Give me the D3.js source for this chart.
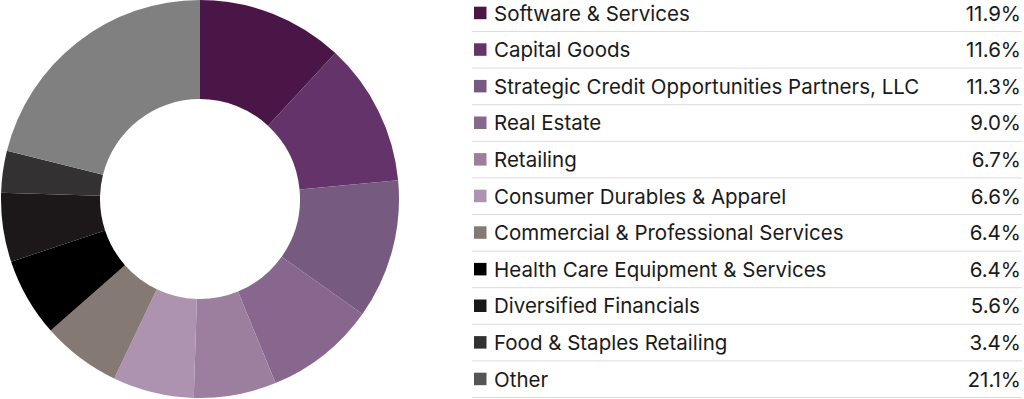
<!DOCTYPE html>
<html>
<head>
<meta charset="utf-8">
<script src="https://cdn.jsdelivr.net/npm/d3@7"></script>
<style>
  html, body { margin: 0; padding: 0; background: #fff; }
  svg { display: block; }
</style>
</head>
<body>
<svg id="chart" width="1024" height="399"></svg>
<script>
const categories = [
  "Software & Services",
  "Capital Goods",
  "Strategic Credit Opportunities Partners, LLC",
  "Real Estate",
  "Retailing",
  "Consumer Durables & Apparel",
  "Commercial & Professional Services",
  "Health Care Equipment & Services",
  "Diversified Financials",
  "Food & Staples Retailing",
  "Other"
];
const values = [11.9, 11.6, 11.3, 9.0, 6.7, 6.6, 6.4, 6.4, 5.6, 3.4, 21.1];
const valueLabels = ["11.9%", "11.6%", "11.3%", "9.0%", "6.7%", "6.6%", "6.4%", "6.4%", "5.6%", "3.4%", "21.1%"];
const sliceColors = ["#4a1648", "#63336a", "#775a80", "#88678e", "#9c7f9f", "#ad93b0", "#857a73", "#000000", "#1c1819", "#333132", "#808080"];
const legendColors = ["#4a1648", "#63336a", "#775a80", "#88678e", "#9c7f9f", "#ad93b0", "#857a73", "#000000", "#1c1819", "#333132", "#555555"];

const svg = d3.select("#chart");
const data = categories.map((c, i) => ({ name: c, value: values[i], label: valueLabels[i], color: sliceColors[i], lcolor: legendColors[i] }));

// Donut
const cx = 200, cy = 199, outerR = 199, innerR = 100;
const pie = d3.pie().value(d => d.value).sort(null);
const arc = d3.arc().innerRadius(innerR).outerRadius(outerR);
const g = svg.append("g").attr("transform", `translate(${cx},${cy})`);
g.selectAll("path").data(pie(data)).join("path")
  .attr("d", arc)
  .attr("fill", d => d.data.color);

// Legend table
const rowScale = d3.scaleBand().domain(categories).range([-5.6, 397]).paddingInner(0).paddingOuter(0);
const left = 472, right = 1022;
const leg = svg.append("g").attr("font-family", "Inter, 'Open Sans', sans-serif").attr("font-size", 20.5).attr("fill", "#1a1a1a");
const rows = leg.selectAll("g.row").data(data).join("g").attr("class", "row")
  .attr("transform", d => `translate(0,${rowScale(d.name)})`);
const bh = rowScale.bandwidth();
rows.append("rect")
  .attr("x", 474).attr("y", bh / 2 - 6.5 + 0.5)
  .attr("width", 12.5).attr("height", 12.5)
  .attr("fill", d => d.lcolor);
rows.append("text")
  .attr("x", 494).attr("y", bh / 2 + 0.5)
  .attr("dominant-baseline", "central")
  .text(d => d.name);
rows.append("text")
  .attr("x", 1021).attr("y", bh / 2 + 0.5)
  .attr("text-anchor", "end")
  .attr("dominant-baseline", "central")
  .text(d => d.label);
rows.append("line")
  .attr("x1", left).attr("x2", right)
  .attr("y1", bh + 0.5).attr("y2", bh + 0.5)
  .attr("stroke", "#dcdcdc").attr("stroke-width", 1);
</script>
</body>
</html>
